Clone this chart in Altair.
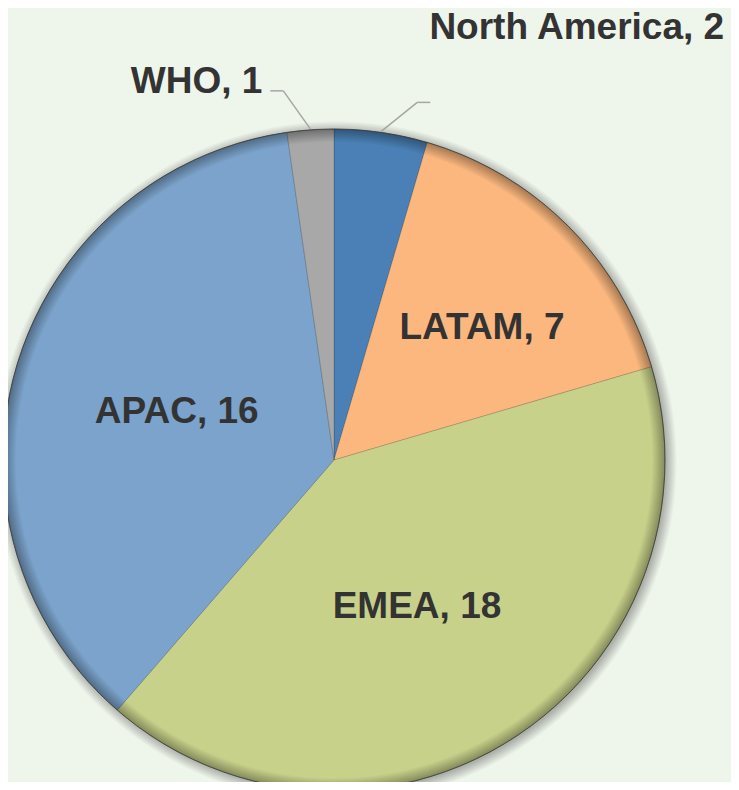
import altair as alt
import pandas as pd
import math

# ---- data ----
regions = ["North America", "LATAM", "EMEA", "APAC", "WHO"]
counts = [2, 7, 18, 16, 1]
colors = ["#4A80B5", "#FBB77E", "#C8D18A", "#7BA3CB", "#A8A8A8"]

# ---- layout / style ----
BG = "#EEF5EB"
W, H = 723, 774
CX, CY, R = 326, 452, 331
FONT = "Liberation Sans"
FS = 37
TXT = "#333333"
LEADER = "#A6A6A6"
FULL = 2 * math.pi

# label radius from centre and fine offsets (style, not data)
label_r = {"North America": R, "LATAM": 200, "EMEA": 167, "APAC": 164, "WHO": R}
label_ox = {"North America": 343, "LATAM": 6.6, "EMEA": -7.3, "APAC": 0.1, "WHO": -48}
label_oy = {"North America": -104, "LATAM": 9.4, "EMEA": 6.2, "APAC": -1.8, "WHO": -48}
# leader line elbow offsets for outside labels
lead_ex = {"North America": 36, "WHO": -27}
lead_ey = {"North America": -29, "WHO": -38}
lead_hx = {"North America": 13, "WHO": -13}


def pick(d, default=0):
    expr = str(default)
    for k, v in d.items():
        expr = f"datum.region == '{k}' ? {v} : ({expr})"
    return expr


df = pd.DataFrame({"region": regions, "count": counts, "order": list(range(len(regions)))})
df["label"] = df["region"] + ", " + df["count"].astype(str)

color_scale = alt.Scale(domain=regions, range=colors)
one = pd.DataFrame({"one": [1]})

# soft shadow around the pie
SR = R + 10
shadow = alt.Chart(one).mark_arc(
    outerRadius=SR,
    theta=0,
    theta2=FULL,
    fill={
        "gradient": "radial",
        "x1": 0.5, "y1": 0.5, "r1": 0,
        "x2": 0.5, "y2": 0.5, "r2": 0.5,
        "stops": [
            {"offset": 0, "color": "rgba(0,0,0,0.28)"},
            {"offset": (R - 1) / SR, "color": "rgba(0,0,0,0.28)"},
            {"offset": 1, "color": "rgba(0,0,0,0)"},
        ],
    },
).encode(x=alt.value(CX + 2), y=alt.value(CY + 2))

arcs = alt.Chart(df).mark_arc(
    outerRadius=R, stroke="#000000", strokeOpacity=0.15, strokeWidth=1
).encode(
    theta=alt.Theta("count:Q", stack=True),
    color=alt.Color("region:N", scale=color_scale, legend=None),
    order=alt.Order("order:Q"),
    x=alt.value(CX),
    y=alt.value(CY),
)

# darkening toward the rim (bevel look)
rim = alt.Chart(one).mark_arc(
    outerRadius=R,
    theta=0,
    theta2=FULL,
    stroke="#3A3A3A",
    strokeOpacity=0.8,
    strokeWidth=1,
    fill={
        "gradient": "radial",
        "x1": 0.5, "y1": 0.5, "r1": 0,
        "x2": 0.5, "y2": 0.5, "r2": 0.5,
        "stops": [
            {"offset": 0, "color": "rgba(0,0,0,0)"},
            {"offset": 0.96, "color": "rgba(0,0,0,0)"},
            {"offset": 1, "color": "rgba(0,0,0,0.34)"},
        ],
    },
).encode(x=alt.value(CX), y=alt.value(CY))

pos = (
    alt.Chart(df)
    .transform_joinaggregate(total="sum(count)")
    .transform_window(cum="sum(count)", sort=[alt.SortField("order")], frame=[None, 0])
    .transform_calculate(mid="(datum.cum - datum.count / 2) / datum.total * 2 * PI")
    .transform_calculate(
        rl=pick(label_r),
        ox=pick(label_ox),
        oy=pick(label_oy),
        ex=pick(lead_ex),
        ey=pick(lead_ey),
        hx=pick(lead_hx),
    )
    .transform_calculate(
        ax=f"{CX} + datum.rl * sin(datum.mid)",
        ay=f"{CY} - datum.rl * cos(datum.mid)",
    )
    .transform_calculate(
        lx="datum.ax + datum.ox",
        ly="datum.ay + datum.oy",
        px=f"{CX} + ({R} + 1) * sin(datum.mid)",
        py=f"{CY} - ({R} + 1) * cos(datum.mid)",
    )
    .transform_calculate(
        qx="datum.px + datum.ex",
        qy="datum.py + datum.ey",
    )
    .transform_calculate(qx2="datum.qx + datum.hx")
)

outside = ["North America", "WHO"]

lead1 = pos.transform_filter(alt.FieldOneOfPredicate(field="region", oneOf=outside)).mark_rule(
    color=LEADER, strokeWidth=1.5
).encode(
    x=alt.X("px:Q", scale=None),
    y=alt.Y("py:Q", scale=None),
    x2="qx:Q",
    y2="qy:Q",
)
lead2 = pos.transform_filter(alt.FieldOneOfPredicate(field="region", oneOf=outside)).mark_rule(
    color=LEADER, strokeWidth=1.5
).encode(
    x=alt.X("qx:Q", scale=None),
    y=alt.Y("qy:Q", scale=None),
    x2="qx2:Q",
    y2="qy:Q",
)

text_kw = dict(font=FONT, fontSize=FS, fontWeight="bold", color=TXT, baseline="middle")

inside_text = pos.transform_filter(
    alt.FieldOneOfPredicate(field="region", oneOf=["LATAM", "EMEA", "APAC"])
).mark_text(align="center", **text_kw).encode(
    x=alt.X("lx:Q", scale=None), y=alt.Y("ly:Q", scale=None), text="label:N"
)
na_text = pos.transform_filter(alt.datum.region == "North America").mark_text(
    align="right", **text_kw
).encode(x=alt.X("lx:Q", scale=None), y=alt.Y("ly:Q", scale=None), text="label:N")
who_text = pos.transform_filter(alt.datum.region == "WHO").mark_text(
    align="right", **text_kw
).encode(x=alt.X("lx:Q", scale=None), y=alt.Y("ly:Q", scale=None), text="label:N")

chart = (
    alt.layer(shadow, arcs, rim, lead1, lead2, inside_text, na_text, who_text)
    .properties(width=W, height=H, padding=0, autosize=alt.AutoSizeParams(type="none"))
    .configure(background=BG)
    .configure_view(stroke=None)
)

chart.save("out.html", embed_options={"renderer": "svg", "actions": False})
